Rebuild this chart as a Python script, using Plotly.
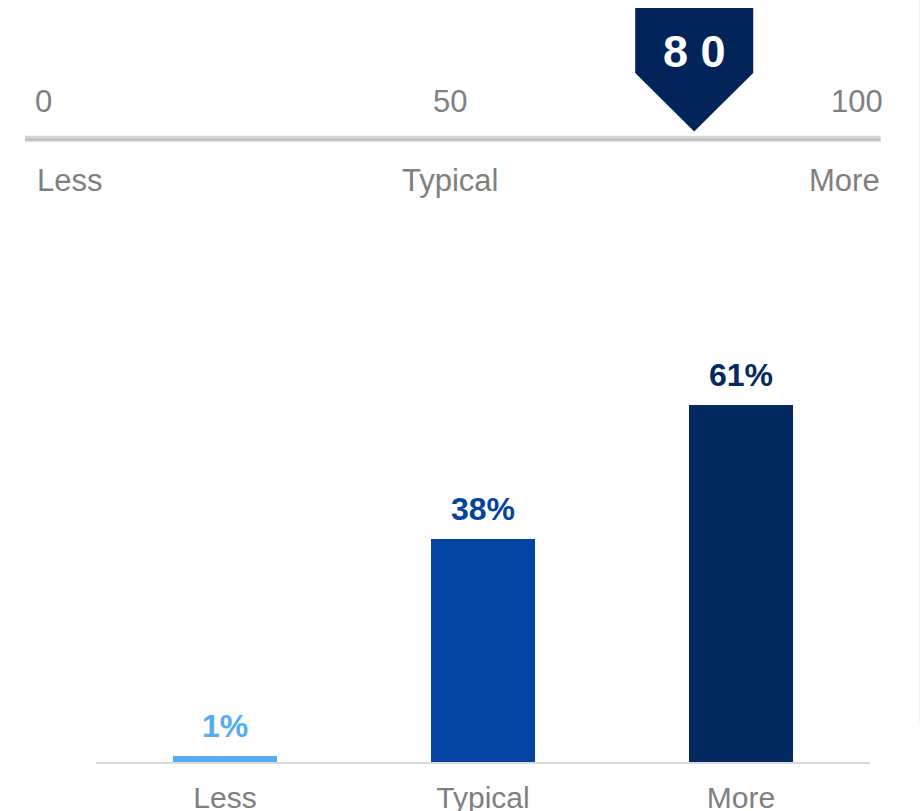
import plotly.graph_objects as go

# Gauge: scale labels and the current score
scale_ticks = [0, 50, 100]
scale_words = ["Less", "Typical", "More"]
score = 80

# Distribution across the three groups (percent)
categories = ["Less", "Typical", "More"]
shares = [1, 38, 61]
bar_colors = ["#56acf0", "#0443a0", "#052a62"]

FONT = "Arial, Liberation Sans, sans-serif"
GRAY = "#808080"
NAVY = "#03245a"

fig = go.Figure()

fig.add_trace(go.Bar(
    x=categories, y=shares, marker=dict(color=bar_colors, line=dict(width=0)),
    width=0.403, hoverinfo="skip", showlegend=False,
))

# invisible trace to activate the gauge axes
fig.add_trace(go.Scatter(x=[scale_ticks[0], scale_ticks[-1]], y=[0, 0], xaxis="x2", yaxis="y2",
                         mode="markers", marker=dict(opacity=0), hoverinfo="skip", showlegend=False))

# value labels above the bars
for c, v, col in zip(categories, shares, bar_colors):
    fig.add_annotation(x=c, y=v, xref="x", yref="y", text=f"<b>{v}%</b>", showarrow=False,
                       yanchor="bottom", yshift=10, font=dict(family=FONT, size=32, color=col))

# gauge track
lo, hi = scale_ticks[0], scale_ticks[-1]
span = hi - lo
track_y = 0.829
fig.add_shape(type="line", xref="x2", yref="paper", x0=lo - 0.022 * span, x1=hi + 0.029 * span,
              y0=track_y, y1=track_y, line=dict(color="#d6d6d6", width=6), layer="below")
fig.add_shape(type="line", xref="x2", yref="paper", x0=lo - 0.022 * span, x1=hi + 0.029 * span,
              y0=track_y - 0.001, y1=track_y - 0.001, line=dict(color="#bcbcbc", width=2), layer="below")

# scale numbers
for t in scale_ticks:
    fig.add_annotation(x=t, y=0.875, xref="x2", yref="paper", text=str(t), showarrow=False,
                       xanchor="center", yanchor="middle", font=dict(family=FONT, size=31, color=GRAY))

# scale words
word_anchor = ["left", "center", "right"]
word_shift = [-8, 0, 25]
for t, w, a, s in zip(scale_ticks, scale_words, word_anchor, word_shift):
    fig.add_annotation(x=t, y=0.777, xref="x2", yref="paper", text=w, showarrow=False,
                       xanchor=a, xshift=s, yanchor="middle", font=dict(family=FONT, size=31, color=GRAY))

# pointer badge at the score
half_w = 7.25
top_y, shoulder_y, tip_y = 0.990, 0.910, 0.838
path = (f"M {score - half_w},{top_y} L {score + half_w},{top_y} L {score + half_w},{shoulder_y} "
        f"L {score},{tip_y} L {score - half_w},{shoulder_y} Z")
fig.add_shape(type="path", xref="x2", yref="paper", path=path, fillcolor=NAVY, line=dict(width=0))
fig.add_annotation(x=score, y=0.937, xref="x2", yref="paper", text="<b>" + " ".join(str(score)) + "</b>",
                   showarrow=False, xanchor="center", yanchor="middle",
                   font=dict(family=FONT, size=45, color="white"))

# faint right border
fig.add_shape(type="line", xref="paper", yref="paper", x0=0.9995, x1=0.9995, y0=0.11, y1=1,
              line=dict(color="#eeeeee", width=1))

gx0, gx1 = 43 / 920, 857 / 920
g_range_w = span / (gx1 - gx0)
fig.update_layout(
    width=920, height=811, margin=dict(l=0, r=0, t=0, b=0, autoexpand=False),
    paper_bgcolor="white", plot_bgcolor="white",
    font=dict(family=FONT),
    xaxis=dict(domain=[96 / 920, 870 / 920], range=[-0.5, 2.5], showgrid=False, zeroline=False,
               showline=True, linecolor="#d9d9d9", linewidth=2, ticks="", ticklabelstandoff=8,
               automargin=False,
               tickfont=dict(family=FONT, size=30, color=GRAY), fixedrange=True),
    yaxis=dict(domain=[49 / 811, 459 / 811], range=[0, 70], visible=False, fixedrange=True,
               automargin=False),
    xaxis2=dict(domain=[0, 1], range=[lo - g_range_w * gx0, lo - g_range_w * gx0 + g_range_w],
                visible=False, anchor="y2", fixedrange=True),
    yaxis2=dict(domain=[0.7, 1], range=[-1, 1], visible=False, anchor="x2", fixedrange=True),
    bargap=0,
)

fig.write_html("out.html")
